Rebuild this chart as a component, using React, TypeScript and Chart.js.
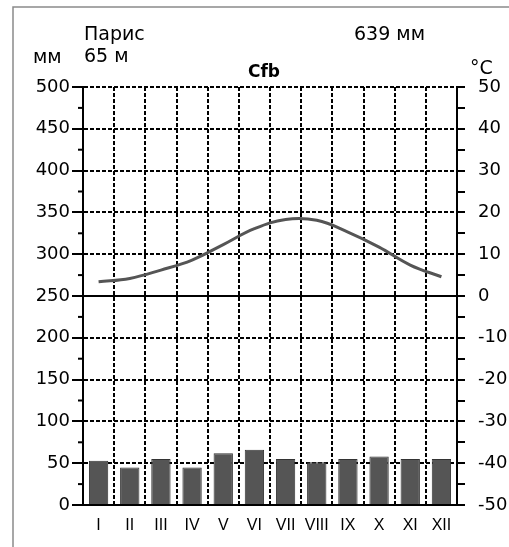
import { useEffect, useRef } from "react";
import { Chart, registerables } from "chart.js";

Chart.register(...registerables);

const months = ["I", "II", "III", "IV", "V", "VI", "VII", "VIII", "IX", "X", "XI", "XII"];
const precipitation = [53, 45, 55, 45, 62, 66, 55, 51, 55, 58, 55, 55];
const temperature = [3.4, 4.2, 6.2, 8.6, 12.3, 16.1, 18.3, 18.1, 15.3, 11.7, 7.4, 4.6];
const minorPrecipTicks = [25, 75, 125, 175, 225, 275, 325, 375, 425, 475];
const zeroTempLine = 250;

const stationName = "Парис";
const stationElevation = "65 м";
const annualTotal = "639 мм";
const climateClass = "Cfb";
const precipUnit = "мм";
const tempUnit = "°C";

const NUM_FONT = "'DejaVu Sans', 'Liberation Sans', Arial, sans-serif";
const MONTH_FONT = "'Liberation Sans', Arial, sans-serif";

const extrasPlugin = {
  id: "extras",
  beforeDraw(chart: any) {
    const ctx = chart.ctx;
    ctx.save();
    ctx.fillStyle = "#fff";
    ctx.fillRect(0, 0, chart.width, chart.height);
    ctx.strokeStyle = "#8a8a8a";
    ctx.lineWidth = 1.5;
    ctx.beginPath();
    ctx.moveTo(13, chart.height);
    ctx.lineTo(13, 7);
    ctx.lineTo(chart.width, 7);
    ctx.stroke();
    ctx.restore();
  },
  beforeDatasetsDraw(chart: any) {
    const ctx = chart.ctx;
    const y = chart.scales.y;
    const area = chart.chartArea;
    ctx.save();
    ctx.strokeStyle = "#000";
    ctx.lineWidth = 2;
    const py = y.getPixelForValue(zeroTempLine);
    ctx.beginPath();
    ctx.moveTo(area.left, py);
    ctx.lineTo(area.right, py);
    ctx.stroke();
    ctx.restore();
  },
  afterDraw(chart: any) {
    const ctx = chart.ctx;
    const y = chart.scales.y;
    ctx.save();
    ctx.strokeStyle = "#000";
    ctx.lineWidth = 2;
    minorPrecipTicks.forEach((v) => {
      const py = y.getPixelForValue(v);
      ctx.beginPath();
      ctx.moveTo(y.right - 5, py);
      ctx.lineTo(y.right, py);
      ctx.stroke();
    });
    ctx.fillStyle = "#000";
    ctx.textBaseline = "alphabetic";
    ctx.font = `19px ${NUM_FONT}`;
    ctx.textAlign = "left";
    ctx.fillText(stationName, 84, 40);
    ctx.fillText(stationElevation, 84, 62);
    ctx.fillText(precipUnit, 33, 63);
    ctx.fillText(annualTotal, 354, 40);
    ctx.fillText(tempUnit, 470, 74);
    ctx.font = `bold 17px ${NUM_FONT}`;
    ctx.textAlign = "center";
    ctx.fillText(climateClass, 264, 77);
    ctx.restore();
  },
};

export default function App() {
  const ref = useRef<HTMLCanvasElement>(null);

  useEffect(() => {
    if (!ref.current) return;
    const chart = new Chart(ref.current, {
      type: "bar",
      data: {
        labels: months,
        datasets: [
          {
            type: "line",
            label: "temperature",
            data: temperature,
            yAxisID: "y1",
            borderColor: "#555",
            borderWidth: 3,
            tension: 0.4,
            pointRadius: 0,
            fill: false,
            order: 0,
          } as any,
          {
            type: "bar",
            label: "precipitation",
            data: precipitation,
            yAxisID: "y",
            backgroundColor: "#555555",
            borderColor: "#333333",
            borderWidth: 1,
            barPercentage: 0.62,
            categoryPercentage: 1,
            order: 1,
          },
        ],
      },
      plugins: [extrasPlugin],
      options: {
        responsive: false,
        animation: false,
        layout: { padding: { top: 87, left: 0, right: 0, bottom: 0 } },
        plugins: {
          legend: { display: false },
          tooltip: { enabled: false },
          title: { display: false },
        },
        scales: {
          x: {
            offset: true,
            grid: {
              offset: true,
              color: "#000",
              lineWidth: 2,
              drawTicks: false,
            },
            border: { display: true, color: "#000", width: 2, dash: [4, 2] },
            ticks: {
              color: "#000",
              font: { family: MONTH_FONT, size: 16 },
              padding: 11,
              maxRotation: 0,
              autoSkip: false,
            },
            afterFit(scale: any) {
              scale.height = 42;
            },
          },
          y: {
            position: "left",
            min: 0,
            max: 500,
            ticks: {
              stepSize: 50,
              color: "#000",
              font: { family: NUM_FONT, size: 18 },
              padding: 2,
            },
            grid: {
              color: "#000",
              lineWidth: 2,
              tickLength: 11,
              tickWidth: 2,
            },
            border: { display: true, color: "#000", width: 2, dash: [4, 2] },
            afterFit(scale: any) {
              scale.width = 83;
            },
          },
          y1: {
            position: "right",
            min: -50,
            max: 50,
            ticks: {
              stepSize: 5,
              color: "#000",
              font: { family: NUM_FONT, size: 18 },
              padding: 13,
              autoSkip: false,
              callback: (v: any) => (Number(v) % 10 === 0 ? String(v) : ""),
            },
            grid: {
              drawOnChartArea: false,
              color: "#000",
              lineWidth: 2,
              tickLength: 8,
            },
            border: { display: true, color: "#000", width: 2 },
            afterFit(scale: any) {
              scale.width = 52;
            },
          },
        },
      },
    });
    return () => chart.destroy();
  }, []);

  return (
    <canvas
      ref={ref}
      width={509}
      height={547}
      style={{ position: "absolute", left: 0, top: 0, display: "block" }}
    />
  );
}
